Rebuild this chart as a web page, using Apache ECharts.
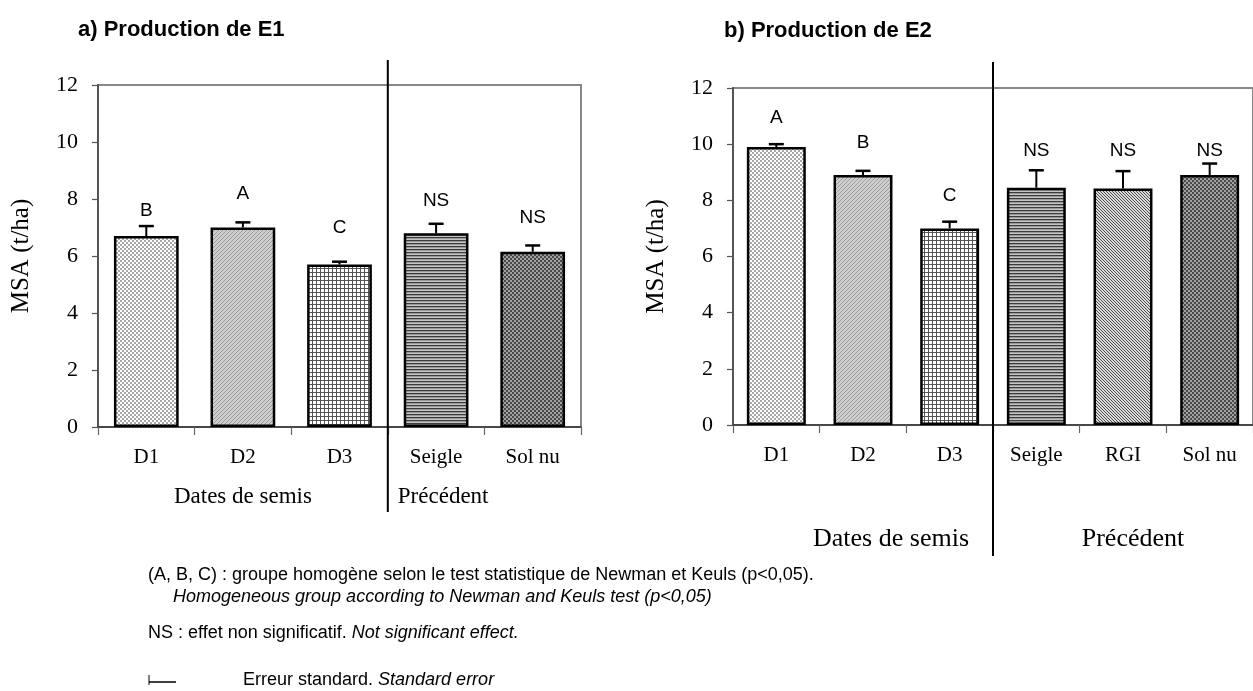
<!DOCTYPE html>
<html><head><meta charset="utf-8">
<script src="https://cdn.jsdelivr.net/npm/echarts@6/dist/echarts.min.js"></script>
<style>html,body{margin:0;padding:0;background:#fff}#c{width:1253px;height:691px}</style>
</head><body><div id="c"></div>
<script>
// ---------- data ----------
const catsA = ['D1', 'D2', 'D3', 'Seigle', 'Sol nu'];
const valsA = [6.7, 7.0, 5.7, 6.8, 6.15];
const errA  = [0.35, 0.18, 0.1, 0.33, 0.22];
const letA  = ['B', 'A', 'C', 'NS', 'NS'];
const letYA = [7.6, 8.2, 7.0, 7.95, 7.35];

const catsB = ['D1', 'D2', 'D3', 'Seigle', 'RGI', 'Sol nu'];
const valsB = [9.9, 8.9, 7.0, 8.45, 8.42, 8.9];
const errB  = [0.1, 0.15, 0.24, 0.62, 0.62, 0.41];
const letB  = ['A', 'B', 'C', 'NS', 'NS', 'NS'];
const letYB = [10.95, 10.05, 8.15, 9.75, 9.75, 9.75];

const yMin = 0, yMax = 12, yStep = 2;
const groupNames = ['Dates de semis', 'Précédent'];
const titleA = 'a) Production de E1';
const titleB = 'b) Production de E2';
const yName = 'MSA (t/ha)';

// ---------- patterns ----------
function mk(w, h, fn) {
  const c = document.createElement('canvas'); c.width = w; c.height = h;
  const g = c.getContext('2d');
  for (let y = 0; y < h; y++) for (let x = 0; x < w; x++) { g.fillStyle = fn(x, y); g.fillRect(x, y, 1, 1); }
  return { image: c, repeat: 'repeat' };
}
const pat = {
  D1: mk(4, 4, (x, y) => ((Math.floor(x/2) + Math.floor(y/2)) % 2 === 0) ? '#a8a8a8' : '#ffffff'),
  D2: mk(4, 4, (x, y) => ((x + y) % 4 === 0) ? '#9a9a9a' : '#cfcfcf'),
  D3: mk(4, 4, (x, y) => (x % 4 === 0 || y % 4 === 0) ? '#555555' : '#ffffff'),
  Seigle: mk(3, 3, (x, y) => y === 0 ? '#3c3c3c' : (y === 1 ? '#9a9a9a' : '#c4c4c4')),
  RGI: mk(3, 3, (x, y) => (((x - y) % 3 + 3) % 3 === 0) ? '#4a4a4a' : '#dcdcdc'),
  'Sol nu': mk(4, 4, (x, y) => ((Math.floor(x/2) + Math.floor(y/2)) % 2 === 0) ? '#4a4a4a' : '#a0a0a0')
};

const serif = 'Liberation Serif';
const sans = 'Liberation Sans';

function barData(cats, vals) {
  return vals.map((v, i) => ({ value: v, itemStyle: { color: pat[cats[i]] } }));
}
function errSeries(idx, vals, errs) {
  return {
    type: 'custom', xAxisIndex: idx, yAxisIndex: idx, z: 5,
    data: vals.map((v, i) => [i, v, errs[i]]),
    renderItem: function (params, api) {
      const i = api.value(0), v = api.value(1), e = api.value(2);
      const p0 = api.coord([i, v]), p1 = api.coord([i, v + e]);
      const hw = 7.5;
      return { type: 'group', children: [
        { type: 'line', shape: { x1: p0[0], y1: p0[1], x2: p1[0], y2: p1[1] }, style: { stroke: '#000', lineWidth: 2 } },
        { type: 'line', shape: { x1: p1[0] - hw, y1: p1[1], x2: p1[0] + hw, y2: p1[1] }, style: { stroke: '#000', lineWidth: 2.5 } }
      ]};
    }
  };
}
function letterSeries(idx, lets, ys) {
  return {
    type: 'custom', xAxisIndex: idx, yAxisIndex: idx, z: 6,
    data: ys.map((y, i) => [i, y]),
    renderItem: function (params, api) {
      const p = api.coord([api.value(0), api.value(1)]);
      return { type: 'text', x: p[0], y: p[1], style: { text: lets[params.dataIndex], fontFamily: sans, fontSize: 19, fill: '#000', align: 'center', verticalAlign: 'middle' } };
    }
  };
}
function xAx(idx, cats) {
  return { gridIndex: idx, type: 'category', data: cats,
    axisLine: { show: true, lineStyle: { color: '#333', width: 1.5 } },
    axisTick: { show: true, length: 8, lineStyle: { color: '#666', width: 1.2 } },
    axisLabel: { fontFamily: serif, fontSize: 21, color: '#000', margin: 20 },
    splitLine: { show: false } };
}
function yAx(idx) {
  return { gridIndex: idx, type: 'value', min: yMin, max: yMax, interval: yStep,
    axisLine: { show: true, lineStyle: { color: '#555', width: 2 } },
    axisTick: { show: true, length: 6, lineStyle: { color: '#555', width: 1.2 } },
    splitLine: { show: false },
    axisLabel: { fontFamily: serif, fontSize: 22, color: '#000', margin: 20 },
    name: yName, nameLocation: 'middle', nameGap: 64,
    nameTextStyle: { fontFamily: serif, fontSize: 25, color: '#000' } };
}
const barStyle = { borderColor: '#000', borderWidth: 2.5 };

const chart = echarts.init(document.getElementById('c'), null, { renderer: 'canvas' });
chart.setOption({
  animation: false,
  backgroundColor: '#fff',
  grid: [
    { left: 98, top: 85, width: 483, height: 342, show: true, borderColor: '#888', borderWidth: 2 },
    { left: 733, top: 88, width: 529, height: 337, show: true, borderColor: '#888', borderWidth: 2 }
  ],
  xAxis: [xAx(0, catsA), xAx(1, catsB)],
  yAxis: [yAx(0), yAx(1)],
  series: [
    { type: 'bar', xAxisIndex: 0, yAxisIndex: 0, data: barData(catsA, valsA), barWidth: '67%', itemStyle: barStyle, z: 3 },
    errSeries(0, valsA, errA),
    letterSeries(0, letA, letYA),
    { type: 'bar', xAxisIndex: 1, yAxisIndex: 1, data: barData(catsB, valsB), barWidth: '68%', itemStyle: barStyle, z: 3 },
    errSeries(1, valsB, errB),
    letterSeries(1, letB, letYB)
  ]
});

// ---------- annotations (separators, group labels, titles, notes) ----------
function px(axisIdx, i) { return chart.convertToPixel({ xAxisIndex: axisIdx }, i); }
const sepA = (px(0, 2) + px(0, 3)) / 2;
const sepB = (px(1, 2) + px(1, 3)) / 2;
const dA = px(0, 1);
const preB = px(1, 4);
const g = [];
g.push({ type: 'line', shape: { x1: sepA, y1: 60, x2: sepA, y2: 512 }, style: { stroke: '#000', lineWidth: 2 }, z: 10 });
g.push({ type: 'line', shape: { x1: sepB, y1: 62, x2: sepB, y2: 556 }, style: { stroke: '#000', lineWidth: 2 }, z: 10 });
g.push({ type: 'text', x: dA, y: 497, style: { text: groupNames[0], fontFamily: serif, fontSize: 23, fill: '#000', align: 'center', verticalAlign: 'middle' } });
g.push({ type: 'text', x: sepA + 10, y: 497, style: { text: groupNames[1], fontFamily: serif, fontSize: 23, fill: '#000', align: 'left', verticalAlign: 'middle' } });
g.push({ type: 'text', x: sepB - 24, y: 539, style: { text: groupNames[0], fontFamily: serif, fontSize: 26, fill: '#000', align: 'right', verticalAlign: 'middle' } });
g.push({ type: 'text', x: preB + 10, y: 539, style: { text: groupNames[1], fontFamily: serif, fontSize: 26, fill: '#000', align: 'center', verticalAlign: 'middle' } });
g.push({ type: 'text', x: 78, y: 30, style: { text: titleA, fontFamily: sans, fontWeight: 'bold', fontSize: 22, fill: '#000', align: 'left', verticalAlign: 'middle' } });
g.push({ type: 'text', x: 724, y: 31, style: { text: titleB, fontFamily: sans, fontWeight: 'bold', fontSize: 22, fill: '#000', align: 'left', verticalAlign: 'middle' } });
const noteFont = 18;
g.push({ type: 'text', x: 148, y: 575, style: { text: '(A, B, C) : groupe homogène selon le test statistique de Newman et Keuls (p<0,05).', fontFamily: sans, fontSize: noteFont, fill: '#000', verticalAlign: 'middle' } });
g.push({ type: 'text', x: 173, y: 597, style: { text: 'Homogeneous group according to Newman and Keuls test (p<0,05)', fontFamily: sans, fontStyle: 'italic', fontSize: noteFont, fill: '#000', verticalAlign: 'middle' } });
g.push({ type: 'text', x: 148, y: 633, style: { text: '{n|NS : effet non significatif. }{i|Not significant effect.}', verticalAlign: 'middle', rich: { n: { fontFamily: sans, fontSize: noteFont, fill: '#000' }, i: { fontFamily: sans, fontSize: noteFont, fontStyle: 'italic', fill: '#000' } } } });
g.push({ type: 'line', shape: { x1: 149, y1: 675, x2: 149, y2: 685 }, style: { stroke: '#000', lineWidth: 1 } });
g.push({ type: 'line', shape: { x1: 149, y1: 682, x2: 176, y2: 682 }, style: { stroke: '#000', lineWidth: 1.5 } });
g.push({ type: 'text', x: 243, y: 680, style: { text: '{n|Erreur standard. }{i|Standard error}', verticalAlign: 'middle', rich: { n: { fontFamily: sans, fontSize: noteFont, fill: '#000' }, i: { fontFamily: sans, fontSize: noteFont, fontStyle: 'italic', fill: '#000' } } } });
chart.setOption({ graphic: g });
</script>
</body></html>
